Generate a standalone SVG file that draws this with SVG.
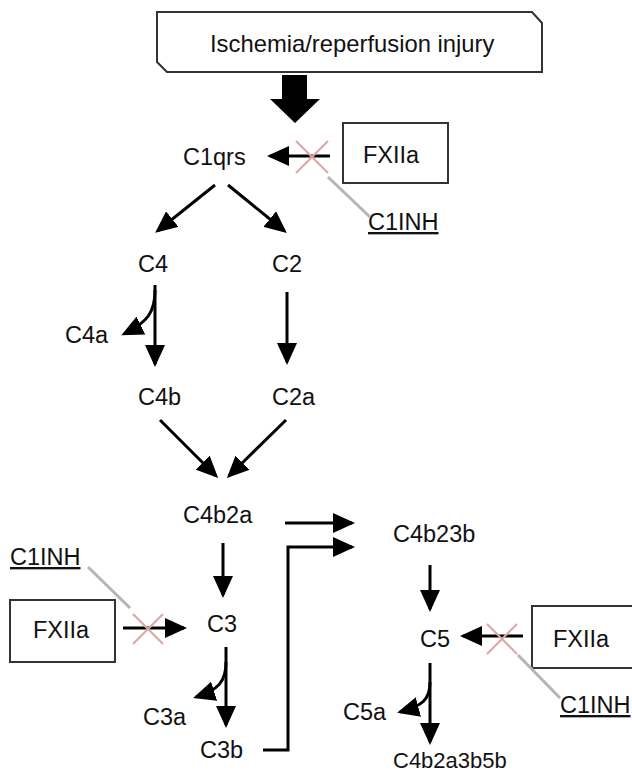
<svg xmlns="http://www.w3.org/2000/svg" width="632" height="777" viewBox="0 0 632 777">
  <defs>
    <marker id="head" markerUnits="userSpaceOnUse" markerWidth="22" markerHeight="20" refX="19" refY="10" orient="auto">
      <path d="M0,0 L22,10 L0,20 Z" fill="#000"/>
    </marker>
    <style>
      text { font-family: "Liberation Sans", Arial, sans-serif; font-size: 23.5px; fill: #111; }
      .box { fill: #fff; stroke: #333; stroke-width: 2; }
      .arrow { fill: none; stroke: #000; stroke-width: 3; marker-end: url(#head); }
      .inhib { stroke: #b5b5b5; stroke-width: 3; fill: none; }
      .cross { stroke: #dcaaa7; stroke-width: 2.2; fill: none; }
      .ul { text-decoration: underline; }
    </style>
  </defs>

  <!-- trigger -->
  <g id="trigger">
    <path class="box" d="M157,12 H532 L542,23 V72 H167 L157,62 Z"/>
    <text x="210" y="52" style="font-size:23.8px">Ischemia/reperfusion injury</text>
  </g>

  <!-- nodes -->
  <g id="c1qrs"><text x="183" y="165">C1qrs</text></g>
  <g id="fxiia-top"><rect class="box" x="343" y="123" width="105" height="60"/><text x="363" y="163">FXIIa</text></g>
  <g id="c1inh-top"><text class="ul" x="368" y="230">C1INH</text></g>
  <g id="c4"><text x="138" y="272">C4</text></g>
  <g id="c2"><text x="272" y="272">C2</text></g>
  <g id="c4a"><text x="65" y="343">C4a</text></g>
  <g id="c4b"><text x="138" y="405">C4b</text></g>
  <g id="c2a"><text x="272" y="405">C2a</text></g>
  <g id="c4b2a"><text x="183" y="523">C4b2a</text></g>
  <g id="c4b23b"><text x="393" y="542">C4b23b</text></g>
  <g id="c1inh-left"><text class="ul" x="10" y="565">C1INH</text></g>
  <g id="fxiia-left"><rect class="box" x="10" y="600" width="105" height="62"/><text x="33" y="638">FXIIa</text></g>
  <g id="c3"><text x="207" y="632">C3</text></g>
  <g id="c3a"><text x="143" y="725">C3a</text></g>
  <g id="c3b"><text x="200" y="758">C3b</text></g>
  <g id="c5"><text x="420" y="647">C5</text></g>
  <g id="fxiia-right"><rect class="box" x="532" y="606" width="110" height="62"/><text x="553" y="647">FXIIa</text></g>
  <g id="c1inh-right"><text class="ul" x="560" y="713">C1INH</text></g>
  <g id="c5a"><text x="343" y="720">C5a</text></g>
  <g id="c4b2a3b5b"><text x="393" y="768" style="font-size:22px">C4b2a3b5b</text></g>

  <!-- connectors -->
  <g id="connectors">
    <!-- big trigger arrow -->
    <path d="M282,75 H307 V99 H320 L295,123 L270,99 H282 Z" fill="#000"/>

    <line class="arrow" x1="330" y1="156" x2="270" y2="156"/>
    <line class="arrow" x1="215" y1="185" x2="157.5" y2="231"/>
    <line class="arrow" x1="228" y1="185" x2="284.5" y2="231"/>

    <line class="arrow" x1="155" y1="285" x2="155" y2="364"/>
    <path class="arrow" d="M155,290 C155,312 148,322 124,334"/>
    <line class="arrow" x1="287" y1="292" x2="287" y2="362"/>

    <line class="arrow" x1="160" y1="420" x2="216" y2="476"/>
    <line class="arrow" x1="286" y1="420" x2="229" y2="476"/>

    <line class="arrow" x1="285" y1="523" x2="352" y2="523"/>
    <polyline class="arrow" points="263,750 288,750 288,547 352,547"/>

    <line class="arrow" x1="223" y1="543" x2="223" y2="595"/>
    <line class="arrow" x1="123" y1="628" x2="184" y2="628"/>
    <line class="arrow" x1="226" y1="647" x2="226" y2="725"/>
    <path class="arrow" d="M226,662 C226,682 218,690 196,697"/>

    <line class="arrow" x1="430" y1="565" x2="430" y2="609"/>
    <line class="arrow" x1="523" y1="636" x2="463" y2="636"/>
    <line class="arrow" x1="430" y1="663" x2="430" y2="742"/>
    <path class="arrow" d="M430,682 C430,700 422,706 400,712"/>

    <!-- inhibition by C1INH -->
    <line class="inhib" x1="328" y1="177" x2="370" y2="217"/>
    <line class="inhib" x1="88" y1="567" x2="130" y2="608"/>
    <line class="inhib" x1="518" y1="655" x2="560" y2="698"/>

    <path class="cross" d="M296,141 L328,173 M328,141 L296,173"/>
    <path class="cross" d="M133,614 L163,644 M163,614 L133,644"/>
    <path class="cross" d="M487,624 L517,654 M517,624 L487,654"/>
  </g>
</svg>
